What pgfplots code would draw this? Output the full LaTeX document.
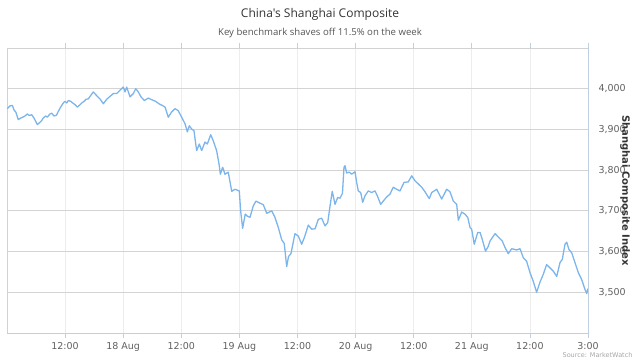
\documentclass[border=0pt]{standalone}
\usepackage{fontspec}
\setmainfont{DejaVu Sans}
\newfontfamily\titlefont{Open Sans}
\usepackage{pgfplots}
\pgfplotsset{compat=1.18}
\definecolor{lineblue}{HTML}{7CB5EC}
\definecolor{gridh}{HTML}{D4D4D4}
\definecolor{gridv}{HTML}{EDEDED}
\definecolor{axisc}{HTML}{C0D0E0}
\definecolor{tickc}{HTML}{606060}
\definecolor{titlec}{HTML}{333333}
\definecolor{subc}{HTML}{555555}
\pgfplotstableread{
x v
0.003 3951
0.026 3958
0.046 3959
0.060 3948
0.077 3942
0.097 3924
0.118 3928
0.135 3930
0.155 3933
0.175 3938
0.192 3934
0.213 3936
0.232 3928
0.254 3916
0.261 3912
0.278 3916
0.299 3922
0.312 3928
0.333 3933
0.347 3930
0.370 3938
0.385 3940
0.404 3933
0.426 3935
0.441 3944
0.462 3955
0.485 3965
0.499 3969
0.514 3965
0.528 3971
0.548 3969
0.565 3965
0.585 3961
0.605 3955
0.622 3959
0.643 3965
0.663 3969
0.680 3974
0.700 3975
0.719 3983
0.743 3992
0.772 3983
0.800 3975
0.829 3963
0.858 3974
0.886 3981
0.915 3988
0.944 3988
0.972 3996
1.001 4004
1.016 3992
1.030 4004
1.059 3980
1.087 3988
1.108 4000
1.130 3992
1.153 3980
1.182 3971
1.216 3977
1.245 3973
1.279 3969
1.308 3963
1.336 3959
1.360 3955
1.388 3930
1.417 3943
1.446 3951
1.474 3946
1.503 3930
1.532 3914
1.552 3894
1.569 3909
1.589 3901
1.609 3897
1.632 3848
1.655 3864
1.675 3848
1.704 3869
1.724 3864
1.753 3887
1.775 3872
1.804 3848
1.827 3811
1.836 3790
1.856 3807
1.876 3790
1.904 3795
1.934 3748
1.962 3753
1.999 3749
2.011 3699
2.028 3657
2.050 3692
2.068 3687
2.091 3684
2.119 3712
2.143 3724
2.162 3721
2.206 3715
2.235 3694
2.278 3700
2.306 3684
2.335 3659
2.364 3629
2.386 3620
2.407 3563
2.423 3588
2.444 3595
2.478 3644
2.507 3638
2.536 3618
2.561 3636
2.593 3665
2.622 3655
2.651 3656
2.679 3679
2.708 3682
2.737 3663
2.760 3671
2.780 3712
2.799 3748
2.823 3716
2.846 3733
2.866 3731
2.887 3743
2.900 3807
2.909 3811
2.923 3793
2.946 3795
2.966 3790
2.995 3796
3.009 3770
3.023 3749
3.044 3745
3.061 3721
3.081 3737
3.109 3749
3.138 3745
3.167 3749
3.187 3737
3.216 3716
3.238 3724
3.267 3734
3.296 3741
3.324 3758
3.353 3753
3.382 3749
3.417 3770
3.453 3771
3.483 3786
3.511 3774
3.540 3766
3.569 3758
3.597 3747
3.634 3730
3.655 3745
3.698 3753
3.741 3729
3.784 3753
3.812 3747
3.841 3724
3.870 3716
3.884 3677
3.913 3697
3.941 3692
3.965 3684
3.985 3659
3.999 3655
4.021 3618
4.051 3647
4.071 3647
4.090 3630
4.118 3601
4.142 3613
4.157 3626
4.200 3644
4.234 3634
4.262 3626
4.286 3610
4.314 3595
4.343 3607
4.386 3604
4.415 3607
4.443 3585
4.472 3576
4.501 3548
4.529 3527
4.558 3500
4.587 3525
4.615 3544
4.644 3568
4.673 3560
4.701 3552
4.731 3539
4.759 3573
4.779 3581
4.802 3618
4.817 3623
4.836 3605
4.860 3597
4.888 3573
4.917 3548
4.946 3531
4.974 3507
4.989 3497
5.000 3509
}\shanghai
\begin{document}
\begin{tikzpicture}
\path[draw=none] (0pt,0pt) rectangle (640pt,360pt);
\node[font=\titlefont\fontsize{12}{14}\selectfont, text=titlec] at (320pt,346pt) {China's Shanghai Composite};
\node[font=\titlefont\fontsize{9.6}{11}\selectfont, text=subc] at (320pt,327pt) {Key benchmark shaves off 11.5\% on the week};
\begin{axis}[
  at={(7pt,312pt)}, anchor=north west,
  scale only axis, width=581pt, height=285pt,
  xmin=0, xmax=5, ymin=3400, ymax=4100,
  xtick={0.5,1,1.5,2,2.5,3,3.5,4,4.5,5},
  xticklabels={12:00,18 Aug,12:00,19 Aug,12:00,20 Aug,12:00,21 Aug,12:00,3:00},
  ytick={3500,3600,3700,3800,3900,4000},
  yticklabels={{3,500},{3,600},{3,700},{3,800},{3,900},{4,000}},
  yticklabel pos=right,
  /pgf/number format/assume math mode=true,
  tick label style={font=\fontsize{9.5}{11}\selectfont, text=tickc},
  xticklabel style={yshift=-0.5pt},
  yticklabel style={anchor=west, xshift=2pt},
  xmajorgrids, ymajorgrids,
  x grid style={gridv, line width=0.8pt},
  y grid style={gridh, line width=0.8pt},
  tick align=outside,
  major tick length=5pt,
  x tick style={axisc, line width=0.8pt},
  y tick style={draw=none},
  axis line style={draw=gray!35, line width=0.8pt},
  ylabel={Shanghai Composite Index},
  every axis y label/.style={at={(rel axis cs:1,0.5)}, xshift=37pt, rotate=-90, anchor=center, font=\bfseries\fontsize{10}{12}\selectfont, text=titlec},
  clip=false,
]
\addplot[lineblue, line width=1.3pt, line join=round] table[x=x,y=v] {\shanghai};
\draw[axisc, line width=0.8pt] (rel axis cs:0,0) -- (rel axis cs:1,0) -- (rel axis cs:1,1);
\end{axis}
\node[anchor=east, font=\fontsize{6.5}{8}\selectfont, text=gray!70] at (636pt,5pt) {Source: MarketWatch};
\end{tikzpicture}
\end{document}
